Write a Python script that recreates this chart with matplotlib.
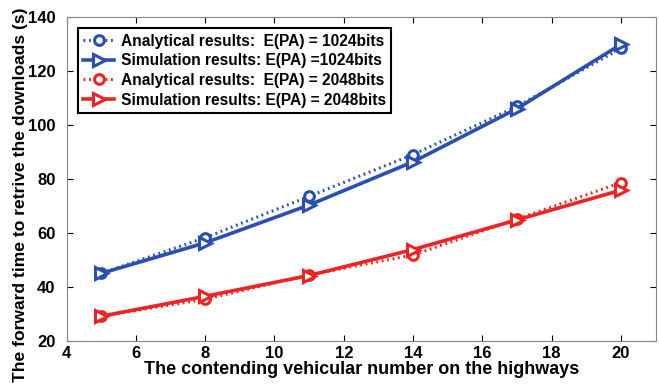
import numpy as np
import matplotlib.pyplot as plt

plt.rcParams['font.family'] = ['Liberation Sans', 'DejaVu Sans']
plt.rcParams['font.weight'] = 'bold'

# vehicle counts on the x axis
vehicles = [5, 8, 11, 14, 17, 20]

# forward time (s) per case
ana_1024 = [45, 58.2, 73.5, 89, 106.8, 128.3]
sim_1024 = [45, 56.3, 70.3, 86.3, 106, 129.8]
ana_2048 = [29.1, 35.4, 44.4, 51.8, 65.1, 78.6]
sim_2048 = [29.1, 36.5, 44.2, 53.8, 64.8, 75.8]

labels = ["Analytical results:  E(PA) = 1024bits",
          "Simulation results: E(PA) =1024bits",
          "Analytical results:  E(PA) = 2048bits",
          "Simulation results: E(PA) = 2048bits"]

blue = "#2a4fb0"
red = "#ee2424"

fig = plt.figure(figsize=(6.59, 3.9), dpi=100)
ax = fig.add_axes([0.101, 0.126, 0.894, 0.831])

ax.plot(vehicles, ana_1024, linestyle=(0, (0.6, 1.2)), color=blue, lw=2.2,
        marker="o", ms=7, mfc="white", mec=blue, mew=2.2, label=labels[0])
ax.plot(vehicles, sim_1024, linestyle="-", color=blue, lw=2.6,
        marker=">", ms=9, mfc="white", mec=blue, mew=2.2, label=labels[1])
ax.plot(vehicles, ana_2048, linestyle=(0, (0.6, 1.2)), color=red, lw=2.2,
        marker="o", ms=7, mfc="white", mec=red, mew=2.2, label=labels[2])
ax.plot(vehicles, sim_2048, linestyle="-", color=red, lw=2.6,
        marker=">", ms=9, mfc="white", mec=red, mew=2.2, label=labels[3])

ax.set_xlim(4, 21)
ax.set_ylim(20, 140)
ax.set_xticks(np.arange(4, 21, 2))
ax.set_yticks(np.arange(20, 141, 20))
ax.tick_params(direction="in", labelsize=12, length=4, width=0.8,
               top=True, right=True)
ax.tick_params(axis="x", pad=4)
ax.tick_params(axis="y", pad=8)
for s in ax.spines.values():
    s.set_color("#888888")
    s.set_linewidth(0.8)

ax.set_xlabel("The contending vehicular number on the highways",
              fontsize=13, fontweight="bold", labelpad=0)
ax.set_ylabel("The forward time to retrive the downloads (s)",
              fontsize=12.6, fontweight="bold", va="center")
ax.yaxis.set_label_coords(-0.079, 0.452)

leg = ax.legend(loc="upper left", bbox_to_anchor=(0.019, 0.965), fontsize=11.2,
                fancybox=False, framealpha=1, edgecolor="black",
                handlelength=2.0, handletextpad=0.4, borderpad=0.35,
                labelspacing=0.3, borderaxespad=0)
leg.get_frame().set_linewidth(1.5)
for t in leg.get_texts():
    t.set_fontweight("bold")

fig.savefig("out.png", dpi=100)
